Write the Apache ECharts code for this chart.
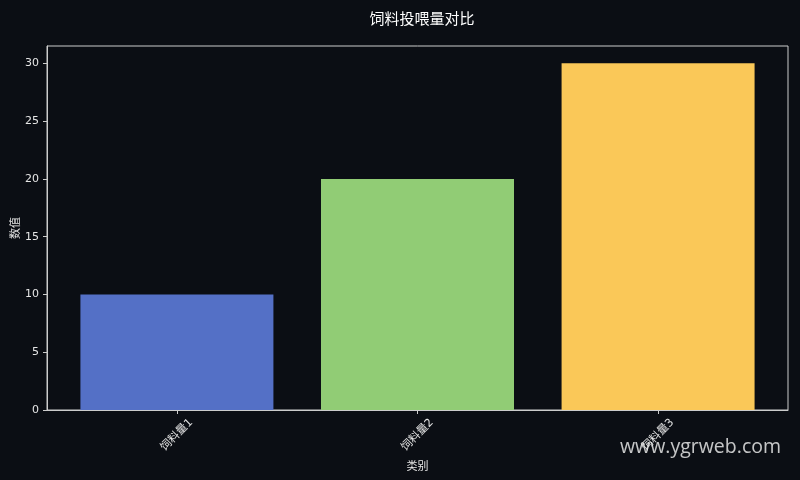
<!DOCTYPE html>
<html>
<head>
<meta charset="utf-8">
<script src="https://cdn.jsdelivr.net/npm/echarts@6/dist/echarts.min.js"></script>
<style>
html, body { margin: 0; padding: 0; background: #0b0e14; }
#main { width: 800px; height: 480px; }
</style>
</head>
<body>
<div id="main"></div>
<script>
var categories = ['饲料量1', '饲料量2', '饲料量3'];
var values = [10, 20, 30];
var barColors = ['#5470c6', '#91cc75', '#fac858'];
var yTicks = [0, 5, 10, 15, 20, 25, 30];
var xTicks = [0, 1, 2];

var font = "'DejaVu Sans', 'Noto Sans CJK SC', sans-serif";
var myChart = echarts.init(document.getElementById('main'));
// x 轴用数值轴, 留出和原图一样的左右边距
var option = {
	backgroundColor: '#0b0e14',
	animation: false,
	title: {
		text: '饲料投喂量对比',
		left: 417, top: 6, textAlign: 'center',
		textStyle: { color: '#ffffff', fontSize: 15, fontWeight: 'normal', fontFamily: "'Noto Sans CJK SC', sans-serif" }
	},
	grid: { left: 47, right: 12, top: 46, bottom: 70, outerBoundsMode: 'none', containLabel: false, show: true, borderColor: '#cccccc', borderWidth: 1 },
	xAxis: {
		type: 'value',
		min: -0.54, max: 2.54,
		name: '类别', nameLocation: 'middle', nameGap: 52,
		nameTextStyle: { color: '#e6e6e6', fontSize: 11, fontFamily: font },
		splitLine: { show: false },
		axisLine: { show: true, onZero: false, lineStyle: { color: '#cccccc' } },
		axisTick: { show: true, length: 4, customValues: xTicks, lineStyle: { color: '#cccccc' } },
		axisLabel: {
			customValues: xTicks,
			formatter: function (v) { return categories[Math.round(v)] || ''; },
			rotate: 45, align: 'center', verticalAlign: 'middle', margin: 25,
			color: '#e6e6e6', fontSize: 11, fontFamily: font
		}
	},
	yAxis: {
		type: 'value',
		min: 0, max: 31.5,
		name: '数值', nameLocation: 'middle', nameGap: 25, nameRotate: 90, nameMoveOverlap: false,
		nameTextStyle: { color: '#e6e6e6', fontSize: 11, fontFamily: font },
		splitLine: { show: false },
		axisLine: { show: true, onZero: false, lineStyle: { color: '#cccccc' } },
		axisTick: { show: true, length: 4, customValues: yTicks, lineStyle: { color: '#cccccc' } },
		axisLabel: { customValues: yTicks, margin: 8, color: '#e6e6e6', fontSize: 11, fontFamily: font }
	},
	graphic: [{
		type: 'text', right: 19, top: 437,
		style: { text: 'www.ygrweb.com', fill: 'rgba(230,230,230,0.85)', fontSize: 19.5, fontFamily: "'Open Sans', sans-serif" }
	}],
	series: [{
		type: 'bar',
		barWidth: 193,
		data: values.map(function (v, i) {
			return { value: [i, v], itemStyle: { color: barColors[i] } };
		})
	}]
};
myChart.setOption(option);
</script>
</body>
</html>
